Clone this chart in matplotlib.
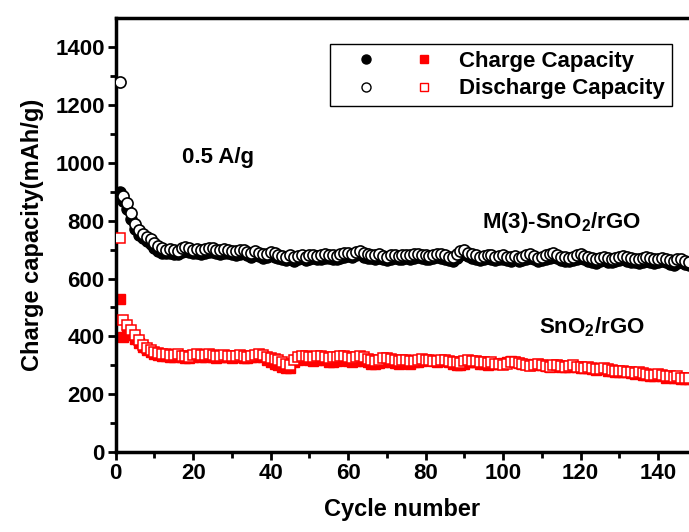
import numpy as np
import matplotlib.pyplot as plt
from matplotlib.legend_handler import HandlerTuple
from matplotlib.lines import Line2D

plt.rcParams['font.family'] = ['Liberation Sans', 'DejaVu Sans']
plt.rcParams['font.weight'] = 'bold'
plt.rcParams['mathtext.fontset'] = 'custom'
plt.rcParams['mathtext.rm'] = 'Liberation Sans:bold'
plt.rcParams['mathtext.default'] = 'rm'

cycles = np.arange(1, 149)

# M(3)-SnO2/rGO
m3_discharge = [1280, 885, 861, 826, 790, 768, 755, 745, 735, 722, 712, 705,
                700, 702, 698, 695, 705, 708, 706, 700, 702, 698, 701, 706, 704, 700, 698, 703, 700, 696,
                694, 698, 700, 692, 688, 694, 690, 684, 686, 693, 688, 682, 678, 676, 680, 674,
                678, 682, 676, 680, 683, 678, 680, 685, 682, 680, 678, 684, 688, 690, 686, 692,
                696, 688, 684, 682, 680, 684, 678, 676, 680, 682, 678, 680, 683, 680, 684, 686, 682, 680,
                678, 682, 686, 684, 680, 676, 674, 684, 694, 698, 690, 684, 680, 676, 678, 682,
                680, 676, 678, 680, 676, 674, 678, 672, 676, 680, 684, 678, 672, 676, 680, 684,
                688, 682, 676, 674, 672, 676, 680, 684, 678, 674, 670, 666, 672, 676, 670, 668, 672, 676,
                678, 674, 670, 668, 666, 670, 674, 670, 666, 668, 672, 668, 664, 660, 666, 668, 662, 658]
m3_charge = [898, 868, 842, 805, 772, 752, 740, 730, 718, 706, 696, 690,
             688, 690, 686, 684, 692, 694, 692, 688, 690, 686, 688, 692, 692, 688, 686, 690, 688, 684,
             682, 686, 688, 680, 676, 682, 678, 672, 674, 680, 676, 670, 666, 664, 668, 662,
             666, 670, 664, 668, 670, 666, 668, 672, 670, 668, 666, 672, 676, 678, 674, 680,
             684, 676, 672, 670, 668, 672, 666, 664, 668, 670, 666, 668, 670, 668, 672, 674, 670, 668,
             666, 670, 674, 672, 668, 664, 660, 672, 682, 686, 678, 672, 668, 664, 666, 670,
             668, 664, 666, 668, 664, 662, 666, 660, 664, 668, 672, 666, 660, 664, 668, 672,
             676, 670, 664, 662, 660, 664, 668, 672, 666, 662, 658, 654, 660, 664, 658, 656, 660, 664,
             666, 662, 658, 656, 654, 658, 662, 658, 654, 656, 660, 656, 652, 648, 654, 656, 650, 646]

# SnO2/rGO
sn_discharge = [740, 456, 439, 422, 404, 387, 372, 360, 352, 346, 342, 340,
                338, 337, 336, 338, 334, 332, 330, 336, 338, 337, 336, 338, 335, 332, 334, 336, 334, 332,
                334, 336, 332, 330, 333, 336, 338, 335, 330, 326, 322, 318, 312, 306, 300, 318,
                330, 334, 332, 330, 328, 332, 334, 330, 326, 328, 330, 334, 332, 328, 326, 330,
                332, 328, 322, 318, 316, 320, 324, 326, 322, 318, 316, 320, 318, 314, 316, 318, 322, 320,
                318, 316, 314, 318, 320, 316, 312, 310, 308, 314, 318, 316, 314, 312, 310, 308,
                310, 306, 304, 302, 306, 310, 312, 308, 304, 300, 298, 302, 304, 300, 298, 296,
                300, 302, 298, 296, 298, 300, 296, 294, 292, 294, 290, 286, 288, 290, 286, 284, 282, 280,
                282, 278, 276, 274, 276, 272, 270, 266, 268, 270, 266, 262, 264, 260, 262, 258, 256, 258]
sn_charge = [529, 398, 410, 405, 392, 378, 364, 352, 346, 340, 336, 334,
             332, 330, 330, 332, 328, 326, 326, 330, 332, 330, 330, 332, 330, 326, 328, 330, 328, 326,
             328, 330, 326, 326, 328, 330, 332, 328, 320, 312, 306, 302, 296, 290, 292, 310,
             320, 324, 322, 318, 316, 320, 322, 318, 312, 312, 314, 318, 318, 314, 312, 316,
             318, 314, 310, 306, 304, 308, 312, 314, 312, 308, 306, 310, 308, 306, 310, 312, 316, 318,
             318, 316, 312, 314, 316, 312, 306, 302, 300, 306, 312, 312, 310, 306, 304, 300,
             304, 304, 306, 308, 312, 314, 312, 308, 306, 304, 300, 302, 304, 300, 298, 296,
             298, 300, 296, 294, 296, 298, 294, 292, 290, 292, 288, 284, 286, 286, 282, 280, 278, 276,
             278, 276, 272, 270, 272, 268, 266, 262, 264, 266, 262, 258, 260, 256, 258, 254, 252, 254]

fig = plt.figure(figsize=(6.89, 5.32), dpi=100)
ax = fig.add_axes([0.168, 0.150, 0.832, 0.816])

ax.plot(cycles, m3_charge, 'o', color='black', markersize=8, zorder=2)
ax.plot(cycles, m3_discharge, 'o', mfc='white', mec='black', mew=1.2, markersize=8, zorder=3)
ax.plot(cycles, sn_charge, 's', color='red', markersize=7, zorder=2)
ax.plot(cycles, sn_discharge, 's', mfc='white', mec='red', mew=1.1, markersize=7, zorder=3)

ax.set_xlim(0, 148)
ax.set_ylim(0, 1500)
ax.set_xticks(np.arange(0, 141, 20))
ax.set_xticks(np.arange(10, 148, 20), minor=True)
ax.set_yticks(np.arange(0, 1401, 200))
ax.set_yticks(np.arange(100, 1500, 200), minor=True)
ax.tick_params(which='major', direction='out', length=6, width=2, labelsize=16, pad=2)
ax.tick_params(which='minor', direction='out', length=4, width=2)
for s in ['left', 'bottom', 'top']:
    ax.spines[s].set_linewidth(2.5)
ax.spines['right'].set_visible(False)

ax.set_xlabel('Cycle number', fontsize=17, fontweight='bold', labelpad=10)
ax.set_ylabel('Charge capacity(mAh/g)', fontsize=17, fontweight='bold', labelpad=8)

ax.text(26.5, 1020, '0.5 A/g', fontsize=16, fontweight='bold', ha='center', va='center')
ax.text(115, 795, 'M(3)-SnO$_2$/rGO', fontsize=16, fontweight='bold', ha='center', va='center')
ax.text(123, 432, 'SnO$_2$/rGO', fontsize=16, fontweight='bold', ha='center', va='center')

h_fill = (Line2D([], [], ls='none', marker='o', color='black', markersize=6.5),
          Line2D([], [], ls='none', marker='s', color='red', markersize=5.5))
h_open = (Line2D([], [], ls='none', marker='o', mfc='white', mec='black', markersize=6.5),
          Line2D([], [], ls='none', marker='s', mfc='white', mec='red', markersize=5.5))
leg = ax.legend([h_fill, h_open], ['Charge Capacity', 'Discharge Capacity'],
                handler_map={tuple: HandlerTuple(ndivide=None, pad=0)},
                loc='upper right', bbox_to_anchor=(0.970, 0.940), fontsize=16,
                handlelength=5.2, handletextpad=0.3, labelspacing=0.3,
                borderpad=0.3, borderaxespad=0, fancybox=False, edgecolor='black', framealpha=1)
leg.get_frame().set_linewidth(1.0)

plt.savefig('out.png', dpi=100)
